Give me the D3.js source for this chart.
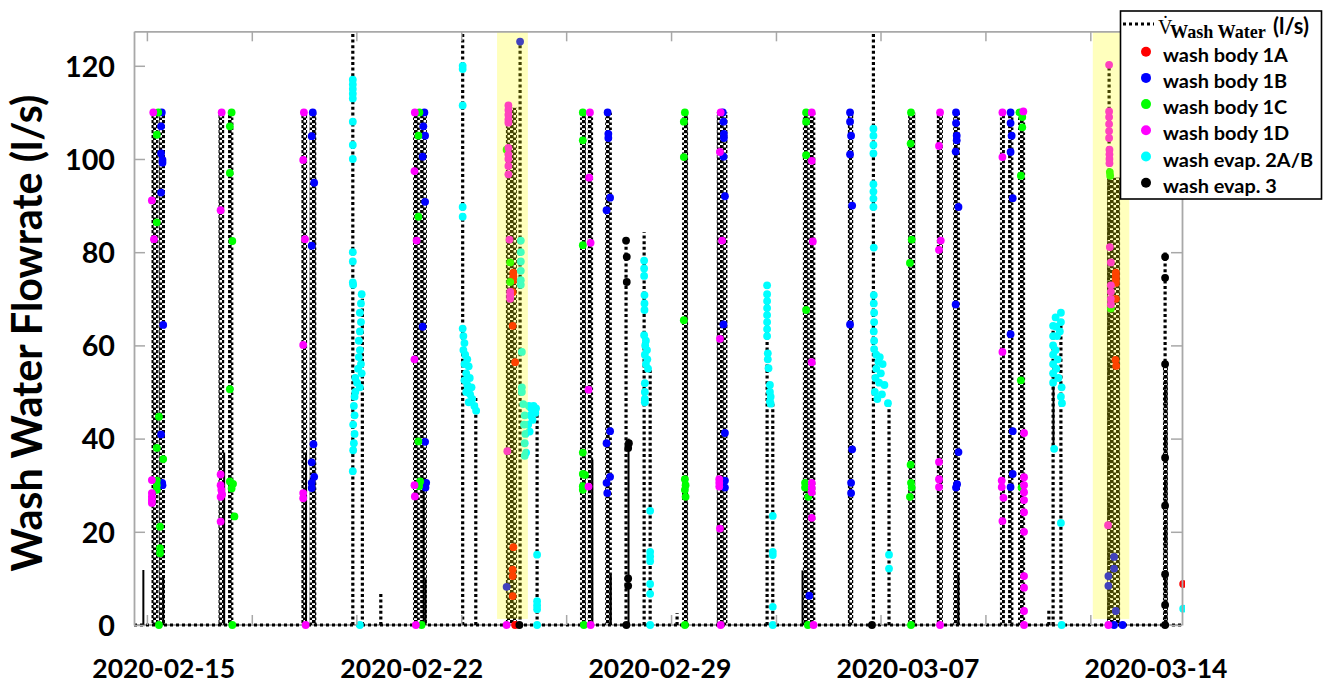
<!DOCTYPE html>
<html>
<head>
<meta charset="utf-8">
<script src="https://cdn.jsdelivr.net/npm/d3@7"></script>
<style>
  body { margin: 0; background: #fff; }
  svg { display: block; font-family: Lato, "Open Sans", sans-serif; font-weight: bold; }
</style>
</head>
<body>
<svg id="chart" width="1329" height="685"></svg>
<script>
// all times are days counted from 2020-02-15 00:00
const baseDate = new Date(2020, 1, 15);

const xLabels = ["2020-02-15", "2020-02-22", "2020-02-29", "2020-03-07", "2020-03-14"];
const xMinorTicks = [-0.46, 2.5, 5.45, 8.41, 11.37, 14.33, 17.29, 20.24, 23.2, 26.16];
const yTicks = [0, 20, 40, 60, 80, 100, 120];

// yellow highlighted periods [start, end]
const highlights = [[9.42, 10.29], [26.23, 27.26]];

// wash water flow: dense on/off bursts [start, end, peak]
const flowBursts = [
  [-0.33, -0.15, 110], [-0.13, 0.05, 110],
  [1.56, 1.72, 110], [1.83, 1.98, 110],
  [3.90, 4.06, 110], [4.13, 4.32, 110],
  [7.05, 7.24, 110], [7.25, 7.44, 110],
  [9.67, 9.98, 111],
  [11.76, 11.93, 110], [11.98, 12.13, 110],
  [12.47, 12.66, 110],
  [14.64, 14.81, 110],
  [15.62, 15.77, 110], [15.77, 15.92, 110],
  [18.05, 18.22, 110], [18.23, 18.40, 110],
  [19.32, 19.47, 110],
  [21.02, 21.22, 110],
  [21.83, 22.00, 110],
  [22.29, 22.48, 110],
  [23.61, 23.75, 110], [23.84, 23.99, 110], [24.12, 24.32, 110],
  [26.63, 27.00, 96],
  [28.21, 28.35, 56]
];
// single flow peaks [time, peak]
const flowSpikes = [
  [5.35, 128], [5.62, 70], [6.14, 6.7], [8.45, 128], [8.82, 48.7],
  [10.07, 125.5], [10.55, 47], [13.06, 82.5], [13.57, 84.3], [13.74, 55],
  [14.50, 2.6], [17.04, 72.9], [17.20, 47.5], [20.04, 128], [20.48, 47.6],
  [24.99, 3.4], [25.11, 64.2], [25.33, 66], [26.69, 120.2], [28.27, 80]
];
// low steady flow segments [time, from, to]
const flowSolid = [
  [-0.56, 0, 11.8], [0.0, 0, 10.7], [1.72, 0, 37], [4.03, 0, 37],
  [7.35, 0, 30], [7.40, 0, 10], [12.11, 0, 35.5], [12.63, 0, 10.9],
  [13.13, 0, 40], [18.04, 0, 11.7], [22.44, 0, 11.3], [25.12, 38, 56]
];

const body1A = [
  [9.88, 75.6], [9.88, 74.8], [9.88, 74.0], [9.86, 71.4], [9.86, 64.2], [9.93, 56.4], [9.88, 16.7],
  [9.86, 11.9], [9.86, 10.5], [9.86, 6.2], [9.93, 0],
  [26.88, 75.6], [26.88, 74.9], [26.88, 74.2], [26.88, 73.4], [26.88, 70.0], [26.87, 56.9], [26.89, 55.6],
  [28.78, 8.8]
];
const body1B = [
  [-0.04, 110], [-0.06, 107], [-0.06, 101.2], [-0.02, 99.8], [-0.02, 99.2], [-0.06, 92.8], [0.0, 64.4],
  [-0.06, 40.9], [-0.03, 30.5], [-0.02, 30.0],
  [4.22, 110], [4.19, 104.9], [4.26, 94.9], [4.19, 81.4], [4.24, 38.8], [4.19, 34.9], [4.26, 31.8],
  [4.19, 30.5], [4.19, 29.4],
  [7.37, 110], [7.34, 107], [7.39, 105], [7.32, 100.5], [7.39, 90.8], [7.32, 64], [7.39, 39.3],
  [7.42, 30.5], [7.40, 29.5],
  [10.07, 125.2], [9.69, 8.2],
  [12.54, 110], [12.56, 105.4], [12.56, 104.5], [12.61, 91.7], [12.51, 89], [12.61, 41.6], [12.51, 39],
  [12.61, 31.8], [12.51, 30.5], [12.53, 28.3],
  [15.79, 110], [15.81, 108], [15.82, 105.4], [15.82, 104.5], [15.81, 100.5], [15.85, 92], [15.81, 64.5],
  [15.85, 41.2], [15.85, 31], [15.85, 29.5],
  [18.23, 6.3],
  [19.38, 110], [19.38, 108], [19.41, 105], [19.38, 101], [19.44, 90], [19.38, 64.5], [19.44, 37.7],
  [19.41, 30.5], [19.41, 28.3],
  [22.37, 110], [22.37, 107.7], [22.39, 105], [22.39, 104], [22.36, 101.6], [22.44, 89.7], [22.36, 68.8],
  [22.44, 37.1], [22.40, 30.2], [22.37, 29.5],
  [23.91, 110], [23.91, 107.7], [23.94, 105], [23.91, 101.5], [23.97, 91.6], [23.91, 62.4], [23.97, 41.6],
  [23.97, 32.4], [23.91, 29.6],
  [26.83, 14.6], [26.83, 12.1], [26.67, 10.5], [26.67, 8.4], [26.88, 3.0], [26.83, 0], [27.07, 0]
];
const body1C = [
  [-0.14, 110], [-0.18, 105.2], [-0.18, 86.4], [-0.12, 44.7], [-0.18, 38], [0.0, 35.6], [-0.18, 31],
  [-0.18, 30], [-0.18, 29], [-0.09, 21.1], [-0.09, 16.5], [-0.09, 15.4], [-0.12, 0],
  [1.93, 110], [1.88, 107], [1.88, 97], [1.95, 82.4], [1.88, 50.6], [1.88, 30.8], [1.97, 30.3],
  [1.93, 29.3], [2.01, 23.3], [1.95, 0],
  [7.23, 110], [7.20, 105], [7.20, 87.6], [7.20, 39.4], [7.25, 30.8], [7.22, 29.8], [7.29, 0],
  [9.69, 102], [9.79, 77.8], [9.79, 73.6],
  [11.84, 110], [11.84, 104], [11.84, 81.5], [11.84, 37], [11.84, 32.4], [11.90, 32.2], [11.84, 29.8],
  [11.84, 29.0], [11.87, 0],
  [14.72, 110], [14.69, 108], [14.69, 100.4], [14.69, 65.4], [14.72, 31.3], [14.74, 30], [14.72, 29],
  [14.74, 27.5], [14.72, 0],
  [18.14, 110], [18.14, 108], [18.14, 100.8], [18.14, 67.6], [18.11, 30.5], [18.11, 29.5], [18.20, 27.5],
  [18.19, 0],
  [21.10, 110], [21.09, 103.3], [21.12, 82.7], [21.07, 77.7], [21.09, 34.4], [21.10, 30.5], [21.12, 29.5],
  [21.07, 27.5], [21.10, 0],
  [24.16, 110], [24.24, 109], [24.24, 106.8], [24.20, 96.4], [24.20, 52.5], [24.22, 29.5],
  [26.71, 97.2], [26.72, 96.4], [26.74, 67.9]
];
const body1D = [
  [-0.28, 110], [-0.32, 91.1], [-0.26, 82.8], [-0.32, 31.1], [-0.32, 28.3], [-0.32, 27.5], [-0.32, 26.8],
  [-0.32, 26.2],
  [1.65, 110], [1.62, 89], [1.62, 32.3], [1.62, 30], [1.64, 29], [1.66, 28.0], [1.62, 27.5], [1.62, 22.2],
  [3.97, 110], [3.95, 99.8], [4.0, 82.8], [3.95, 60.1], [3.95, 28.3], [3.95, 27.2], [4.02, 0],
  [7.10, 110], [7.09, 97.4], [7.15, 82.5], [7.09, 57], [7.09, 30], [7.10, 27.6], [7.13, 0],
  [9.74, 111.5], [9.74, 110.5], [9.74, 109.5], [9.74, 108.5], [9.74, 107.8], [9.74, 102.4], [9.74, 101],
  [9.74, 100], [9.74, 98.5], [9.74, 96.7], [9.77, 82.7], [9.79, 71.5], [9.79, 70.7], [9.79, 70],
  [9.71, 37.3], [9.69, 0],
  [12.04, 110], [12.02, 96], [12.06, 82], [12.0, 50.5], [12.0, 29.7], [12.06, 0],
  [15.73, 110], [15.71, 101.5], [15.77, 82.5], [15.71, 61.4], [15.69, 31.3], [15.69, 30.5], [15.69, 29.7],
  [15.71, 20.7], [15.73, 0],
  [18.30, 110], [18.30, 99.6], [18.33, 82.3], [18.30, 56.4], [18.30, 30.5], [18.30, 29.5], [18.30, 28.5],
  [18.30, 23], [18.35, 0],
  [21.92, 110], [21.89, 102.8], [21.94, 82.5], [21.89, 80.5], [21.89, 35], [21.89, 31.3], [21.89, 29.6],
  [21.92, 0],
  [23.68, 110], [23.68, 100.4], [23.68, 58.6], [23.66, 31], [23.66, 29.6], [23.71, 27.3], [23.68, 22.3],
  [24.27, 110.2], [24.29, 41.2], [24.29, 31.7], [24.29, 30], [24.29, 28.5], [24.29, 26.8], [24.29, 24.2],
  [24.29, 20], [24.29, 10.5], [24.29, 8], [24.29, 3], [24.29, 0],
  [26.69, 120.2], [26.69, 110.2], [26.69, 109], [26.69, 107.5], [26.69, 106], [26.69, 104.5], [26.70, 102],
  [26.70, 101], [26.70, 100], [26.70, 99.1], [26.71, 81.1], [26.74, 77.8], [26.74, 72.9], [26.74, 71.5],
  [26.74, 70], [26.74, 68.8], [26.66, 21.4], [26.67, 0]
];
const evap2AB = [
  [5.35, 117], [5.35, 116], [5.35, 115], [5.35, 114], [5.35, 113], [5.35, 108], [5.35, 103], [5.35, 100],
  [5.35, 80], [5.35, 78], [5.35, 73.5], [5.36, 73],
  [5.60, 71], [5.58, 69], [5.55, 67], [5.58, 65], [5.55, 63], [5.52, 61], [5.55, 59], [5.52, 57.5],
  [5.58, 56], [5.50, 55], [5.60, 54], [5.42, 53], [5.47, 52], [5.55, 51], [5.42, 50], [5.40, 49],
  [5.38, 47], [5.40, 45], [5.36, 43], [5.40, 41], [5.38, 39], [5.36, 37.5], [5.35, 33], [5.55, 0],
  [8.45, 120], [8.45, 119.3], [8.45, 111.5], [8.45, 89.7], [8.45, 87.6], [8.45, 63.6], [8.47, 62],
  [8.50, 60.5], [8.47, 59], [8.52, 58], [8.58, 57], [8.50, 56], [8.62, 55.5], [8.55, 54], [8.65, 53],
  [8.50, 52.5], [8.58, 51.5], [8.70, 51], [8.55, 50], [8.66, 49.5], [8.72, 48.5], [8.62, 47.8],
  [8.78, 47], [8.83, 46],
  [10.09, 82.5], [10.09, 80], [10.09, 78], [10.09, 76], [10.09, 74], [10.09, 73], [10.12, 58.6],
  [10.12, 51], [10.12, 50], [10.16, 47.4], [10.2, 45], [10.18, 43], [10.22, 41], [10.2, 39], [10.24, 37],
  [10.2, 36.3], [10.32, 47], [10.38, 46.5], [10.45, 47], [10.52, 46.5], [10.36, 45], [10.42, 44],
  [10.5, 45.5], [10.30, 43], [10.34, 41.5], [10.55, 15.1], [10.55, 5.1], [10.55, 4.2], [10.55, 3.4],
  [10.55, 0],
  [13.57, 78.2], [13.57, 76.5], [13.57, 74.9], [13.58, 70.8], [13.58, 69], [13.58, 67.6], [13.57, 62.2],
  [13.62, 61], [13.60, 60], [13.65, 59], [13.59, 58], [13.66, 57], [13.62, 56], [13.68, 55], [13.59, 51.9],
  [13.59, 50], [13.59, 48.5], [13.59, 47.8],
  [13.74, 24.5], [13.74, 15.7], [13.74, 14.7], [13.74, 13.7], [13.74, 8.8], [13.74, 6.7], [13.74, 0],
  [17.04, 72.9], [17.04, 71], [17.04, 69.5], [17.04, 68], [17.04, 66.5], [17.04, 65], [17.04, 63.5],
  [17.04, 62], [17.06, 58.3], [17.06, 57], [17.08, 55.1], [17.12, 51.5], [17.12, 50], [17.14, 49],
  [17.12, 48], [17.14, 47.5],
  [17.20, 23.4], [17.20, 15.7], [17.20, 15.0], [17.20, 3.9], [17.20, 0],
  [20.04, 106.5], [20.04, 105], [20.04, 103], [20.04, 101.2], [20.04, 94.6], [20.04, 93], [20.04, 91.5],
  [20.04, 89.7], [20.05, 81], [20.05, 70.8], [20.05, 69], [20.06, 67], [20.06, 65], [20.05, 63],
  [20.06, 61], [20.06, 59.2], [20.12, 58], [20.22, 57.5], [20.18, 56.5], [20.30, 56], [20.12, 55],
  [20.25, 54], [20.10, 53], [20.2, 52], [20.35, 51.5], [20.08, 50], [20.28, 49.5], [20.15, 48.5],
  [20.45, 47.6], [20.48, 15.1], [20.48, 12.1],
  [25.11, 64.2], [25.11, 62], [25.11, 60], [25.11, 58], [25.11, 56], [25.11, 54], [25.11, 52],
  [25.18, 66], [25.20, 64], [25.22, 62], [25.18, 59], [25.24, 57], [25.20, 55], [25.26, 53],
  [25.33, 67], [25.33, 65], [25.30, 63], [25.35, 51], [25.33, 49], [25.36, 47.6], [25.14, 37.8],
  [25.33, 21.9], [25.35, 0],
  [28.78, 3.5]
];
const evap3 = [
  [10.05, 0], [13.06, 82.5], [13.08, 79], [13.08, 73.6], [13.14, 39], [13.12, 38], [13.12, 10],
  [13.12, 8.4], [13.07, 0], [20.0, 0],
  [28.27, 79], [28.27, 74.5], [28.27, 56], [28.27, 35.9], [28.27, 25.6], [28.27, 10.9], [28.27, 4.3],
  [28.27, 0]
];

const seriesNames = ["wash body 1A", "wash body 1B", "wash body 1C", "wash body 1D", "wash evap. 2A/B", "wash evap. 3"];
const seriesColors = ["#ff0000", "#0000ff", "#00ff00", "#ff00ff", "#00ffff", "#000000"];
const seriesData = [body1A, body1B, body1C, body1D, evap2AB, evap3];

// ---------- layout ----------
const svg = d3.select("#chart");
const day = d => new Date(baseDate.getTime() + d * 864e5);
const x = d3.scaleTime().domain([day(-0.824), day(28.747)]).range([134, 1182]);
const y = d3.scaleLinear().domain([0, 127.4]).range([625, 31.3]);
const grey = "#a8a8a8";

// font size that makes a text span the wanted width
const fitText = function (sel, width) {
  const w = sel.node().getComputedTextLength();
  const fs = parseFloat(sel.attr("font-size"));
  return fs * width / w;
};

const defs = svg.append("defs");
defs.append("clipPath").attr("id", "plotClip").append("rect")
  .attr("x", x.range()[0]).attr("y", y.range()[1])
  .attr("width", x.range()[1] - x.range()[0]).attr("height", y.range()[0] - y.range()[1] + 3);
defs.append("clipPath").attr("id", "dotClip").append("rect")
  .attr("x", 0).attr("y", 0).attr("width", x.range()[1] + 3).attr("height", 685);
const pat = defs.append("pattern").attr("id", "zig")
  .attr("width", 6).attr("height", 5).attr("patternUnits", "userSpaceOnUse");
pat.append("rect").attr("x", 0).attr("y", 0).attr("width", 3.6).attr("height", 3.2).attr("fill", "#000");
pat.append("rect").attr("x", 3).attr("y", 2.5).attr("width", 3.2).attr("height", 3.2).attr("fill", "#000");

// ---------- flow line ----------
const plot = svg.append("g").attr("clip-path", "url(#plotClip)");

plot.append("line")
  .attr("x1", x.range()[0]).attr("x2", x.range()[1])
  .attr("y1", y(0)).attr("y2", y(0))
  .attr("stroke", grey).attr("stroke-width", 2);
plot.append("line")
  .attr("x1", x.range()[0]).attr("x2", x.range()[1])
  .attr("y1", y(0)).attr("y2", y(0))
  .attr("stroke", "#000").attr("stroke-width", 2.8).attr("stroke-dasharray", "3,3");

plot.selectAll("rect.burst").data(flowBursts).join("rect")
  .attr("class", "burst")
  .attr("x", d => x(day(d[0])))
  .attr("width", d => x(day(d[1])) - x(day(d[0])))
  .attr("y", d => y(d[2]))
  .attr("height", d => y(0) - y(d[2]))
  .attr("fill", "url(#zig)");

plot.selectAll("line.spike").data(flowSpikes).join("line")
  .attr("class", "spike")
  .attr("x1", d => x(day(d[0]))).attr("x2", d => x(day(d[0])))
  .attr("y1", y(0)).attr("y2", d => y(d[1]))
  .attr("stroke", "#000").attr("stroke-width", 3.2).attr("stroke-dasharray", "3,2.6");

plot.selectAll("line.solid").data(flowSolid).join("line")
  .attr("class", "solid")
  .attr("x1", d => x(day(d[0]))).attr("x2", d => x(day(d[0])))
  .attr("y1", d => y(d[1])).attr("y2", d => y(d[2]))
  .attr("stroke", "#000").attr("stroke-width", 2);

// ---------- samples ----------
const dots = svg.append("g").attr("clip-path", "url(#dotClip)");
seriesData.forEach((data, i) => {
  dots.append("g").selectAll("circle").data(data).join("circle")
    .attr("cx", d => x(day(d[0])))
    .attr("cy", d => y(d[1]))
    .attr("r", 3.9)
    .attr("fill", seriesColors[i]);
});

// ---------- highlights ----------
svg.append("g").selectAll("rect").data(highlights).join("rect")
  .attr("x", d => x(day(d[0])))
  .attr("width", d => x(day(d[1])) - x(day(d[0])))
  .attr("y", y(127.4))
  .attr("height", y(1.3) - y(127.4))
  .attr("fill", "#ffff00")
  .attr("fill-opacity", 0.26);

// ---------- axes ----------
const styleAxis = function (g) {
  g.select(".domain").attr("stroke", grey).attr("stroke-width", 1.8);
  g.selectAll(".tick line").attr("stroke", grey).attr("stroke-width", 1.5);
};

const yLeft = svg.append("g").attr("transform", `translate(${x.range()[0]},0)`)
  .call(d3.axisLeft(y).tickValues(yTicks).tickSize(-11).tickSizeOuter(0).tickPadding(19))
  .call(styleAxis);
yLeft.selectAll(".tick text")
  .attr("fill", "#000").attr("font-family", "Lato, sans-serif").attr("font-weight", "bold")
  .attr("font-size", 28);
const yFs = fitText(yLeft.select(".tick:last-of-type text"), 50);
yLeft.selectAll(".tick text").attr("font-size", yFs).attr("dy", "0.36em");

svg.append("g").attr("transform", `translate(${x.range()[1]},0)`)
  .call(d3.axisRight(y).tickValues(yTicks).tickSize(-11).tickSizeOuter(0).tickFormat(""))
  .call(styleAxis);

svg.append("g").attr("transform", `translate(0,${y.range()[1]})`)
  .call(d3.axisTop(x).tickValues(xMinorTicks.map(day)).tickSize(-10).tickSizeOuter(0).tickFormat(""))
  .call(styleAxis);

svg.append("g").attr("transform", `translate(0,${y(0)})`)
  .call(d3.axisBottom(x).tickValues(xMinorTicks.map(day)).tickSize(-10).tickSizeOuter(0).tickFormat(""))
  .call(g => g.select(".domain").remove())
  .call(styleAxis);

const parseDate = d3.timeParse("%Y-%m-%d");
const xLab = svg.append("g").attr("transform", `translate(0,${y(0)})`)
  .call(d3.axisBottom(x).tickValues(xLabels.map(parseDate)).tickSize(0)
    .tickFormat(d3.timeFormat("%Y-%m-%d")))
  .call(g => g.select(".domain").remove());
xLab.selectAll(".tick text")
  .attr("fill", "#000").attr("font-family", "Lato, sans-serif").attr("font-weight", "bold")
  .attr("font-size", 28).attr("y", 53).attr("dy", 0);
const xFs = fitText(xLab.select(".tick text"), 143);
xLab.selectAll(".tick text").attr("font-size", xFs);

// y title
const yTitle = svg.append("text")
  .attr("transform", "translate(42,333) rotate(-90)")
  .attr("text-anchor", "middle")
  .attr("font-size", 36)
  .attr("fill", "#000")
  .text("Wash Water Flowrate (l/s)");
yTitle.attr("font-size", fitText(yTitle, 477));

// ---------- legend ----------
const legend = svg.append("g");
legend.append("rect")
  .attr("x", 1120.5).attr("y", 11).attr("width", 201).attr("height", 188)
  .attr("fill", "#fff").attr("stroke", "#000").attr("stroke-width", 1.6);

legend.append("line")
  .attr("x1", 1123).attr("x2", 1154).attr("y1", 24).attr("y2", 24)
  .attr("stroke", "#000").attr("stroke-width", 3).attr("stroke-dasharray", "3,3");

const serif = "'Liberation Serif', 'DejaVu Serif', serif";
legend.append("text").attr("x", 1158).attr("y", 33.5).attr("fill", "#000")
  .attr("font-family", serif).attr("font-weight", "normal").attr("font-size", 20)
  .text("V\u0307");
const sub = legend.append("text").attr("x", 1170).attr("y", 37.5).attr("fill", "#000")
  .attr("font-family", serif).attr("font-weight", "bold").attr("font-size", 17)
  .text("Wash Water");
sub.attr("font-size", fitText(sub, 96));
const unit = legend.append("text").attr("x", 1273).attr("y", 33.5).attr("fill", "#000")
  .attr("font-size", 20).text("(l/s)");
unit.attr("font-size", fitText(unit, 36));

const rows = legend.selectAll("g.row").data(seriesNames).join("g")
  .attr("class", "row")
  .attr("transform", (d, i) => `translate(0,${51.7 + i * 26.2})`);
rows.append("circle").attr("cx", 1146).attr("cy", 0).attr("r", 5)
  .attr("fill", (d, i) => seriesColors[i]);
const rowText = rows.append("text").attr("x", 1163).attr("y", 10)
  .attr("font-size", 19).attr("fill", "#000").text(d => d);
const lFs = fitText(d3.select(rowText.nodes()[0]), 125);
rowText.attr("font-size", lFs);
</script>
</body>
</html>
